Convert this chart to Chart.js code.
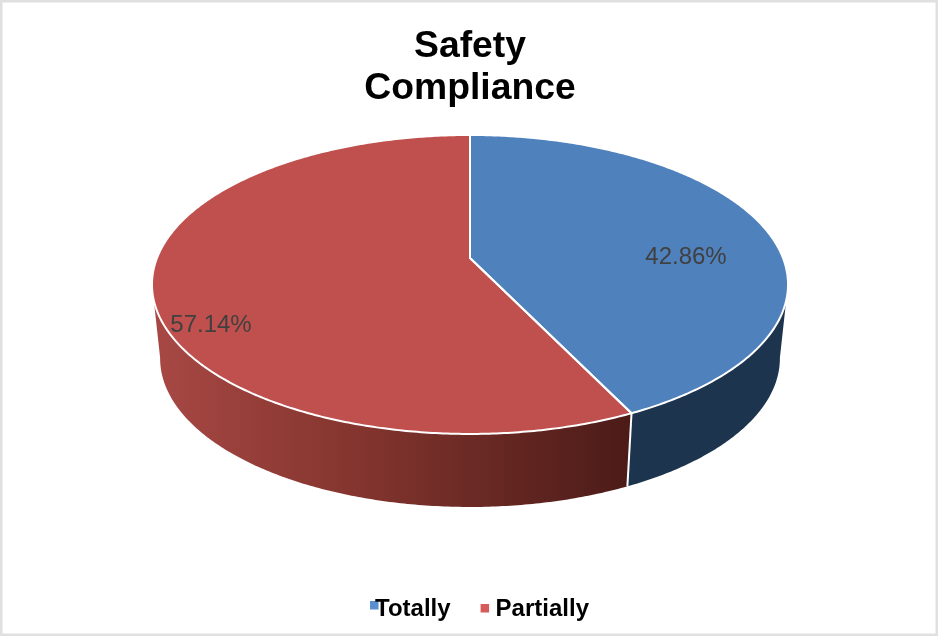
<!DOCTYPE html>
<html>
<head>
<meta charset="utf-8">
<title>Safety Compliance</title>
<script src="https://cdn.jsdelivr.net/npm/chart.js@4/dist/chart.umd.min.js"></script>
<style>
html,body{margin:0;padding:0;background:#fff;}
canvas{display:block;}
</style>
</head>
<body>
<canvas id="safetyChart" width="938" height="636"></canvas>
<script>
const categories = ['Totally', 'Partially'];
const values = [42.86, 57.14];
const sliceColors = ['#4f81bd', '#c0504d'];
const titleLines = ['Safety', 'Compliance'];

// tilted disc, projected with a bit of perspective: the apex sits above the ellipse middle
const persp = -0.177;
const topFace = {cx: 470, cy: 258, a: 313, b: 144.8};
const bottomFace = {cx: 470, cy: 332, a: 305, b: 144};
const rimRight = 100 * Math.PI / 180;
const rimLeft = 260 * Math.PI / 180;

const labelPos = [[686, 257], [211, 325]];
const markerOffset = [[-5, 4], [-15, 7]];
const markerColors = ['#5a8fd0', '#d65c5c'];

function project(face, t){
 const u = Math.sin(t), v = -Math.cos(t);
 const d = 1 + persp * v;
 return [face.cx + face.a * u / d, face.cy + face.b * v / d];
}

function arcPoints(face, from, to){
 const pts = [];
 const n = Math.max(2, Math.ceil(Math.abs(to - from) / 0.01));
 for(let i = 0; i <= n; i++) pts.push(project(face, from + (to - from) * i / n));
 return pts;
}

function tracePoly(ctx, pts){
 ctx.beginPath();
 pts.forEach((p, i) => { if(i === 0) ctx.moveTo(p[0], p[1]); else ctx.lineTo(p[0], p[1]); });
 ctx.closePath();
}

const disc3d = {
 id: 'disc3d',
 afterLayout(chart){
  // the left padding only serves the legend, title stays over the disc
  chart.titleBlock.left -= 12;
 },
 beforeDraw(chart){
  const ctx = chart.ctx;
  ctx.save();
  ctx.strokeStyle = '#e0e0e0';
  ctx.lineWidth = 5;
  ctx.strokeRect(0, 0, chart.width, chart.height);
  ctx.restore();
 },
 beforeDatasetDraw(chart){
  const ctx = chart.ctx;
  const arcs = chart.getDatasetMeta(0).data;
  const angles = arcs.map(a => [a.startAngle + Math.PI / 2, a.endAngle + Math.PI / 2]);
  ctx.save();

  // side walls, only the part facing the viewer
  const split = angles[0][1];
  const wallGrad = ctx.createLinearGradient(153, 0, 628, 0);
  wallGrad.addColorStop(0, '#a84845');
  wallGrad.addColorStop(0.4, '#86362f');
  wallGrad.addColorStop(1, '#4c1b18');
  tracePoly(ctx, arcPoints(topFace, rimRight, split).concat(arcPoints(bottomFace, split, rimRight)));
  ctx.fillStyle = '#1d344f';
  ctx.fill();
  tracePoly(ctx, arcPoints(topFace, split, rimLeft).concat(arcPoints(bottomFace, rimLeft, split)));
  ctx.fillStyle = wallGrad;
  ctx.fill();

  const a = project(topFace, split), b = project(bottomFace, split);
  ctx.strokeStyle = '#fff';
  ctx.lineWidth = 2;
  ctx.beginPath();
  ctx.moveTo(a[0], a[1]);
  ctx.lineTo(b[0], b[1]);
  ctx.stroke();

  // top face
  const apex = [topFace.cx, topFace.cy];
  angles.forEach((ang, i) => {
   tracePoly(ctx, [apex].concat(arcPoints(topFace, ang[0], ang[1])));
   ctx.fillStyle = sliceColors[i];
   ctx.fill();
  });
  angles.forEach(ang => {
   tracePoly(ctx, [apex].concat(arcPoints(topFace, ang[0], ang[1])));
   ctx.lineWidth = 2;
   ctx.lineJoin = 'round';
   ctx.strokeStyle = '#fff';
   ctx.stroke();
  });

  // percentage labels
  ctx.font = '24px "Liberation Sans", Arial, sans-serif';
  ctx.fillStyle = '#404040';
  ctx.textAlign = 'center';
  ctx.textBaseline = 'middle';
  values.forEach((v, i) => ctx.fillText(v.toFixed(2) + '%', labelPos[i][0], labelPos[i][1]));
  ctx.restore();
  return false;
 },
 afterDraw(chart){
  const ctx = chart.ctx;
  const boxes = chart.legend.legendHitBoxes;
  ctx.save();
  boxes.forEach((box, i) => {
   const textLeft = box.left + 12;
   ctx.fillStyle = markerColors[i];
   ctx.globalCompositeOperation = 'destination-over';
   ctx.fillRect(textLeft + markerOffset[i][0], box.top + markerOffset[i][1], 8.5, 8.5);
  });
  ctx.restore();
 }
};

new Chart(document.getElementById('safetyChart'), {
 type: 'pie',
 data: {
  labels: categories,
  datasets: [{data: values, backgroundColor: sliceColors}]
 },
 options: {
  responsive: false,
  animation: false,
  layout: {padding: {left: 14, bottom: 5}},
  plugins: {
   tooltip: {enabled: false},
   title: {
    display: true,
    text: titleLines,
    color: '#000',
    font: {family: '"Liberation Sans", Arial, sans-serif', size: 37.3, weight: 'bold', lineHeight: 1.14},
    padding: {top: 25, bottom: 10}
   },
   legend: {
    position: 'bottom',
    labels: {
     boxWidth: 0,
     padding: 33,
     color: '#000',
     font: {family: '"Liberation Sans", Arial, sans-serif', size: 24, weight: 'bold'}
    }
   }
  }
 },
 plugins: [disc3d]
});
</script>
</body>
</html>
